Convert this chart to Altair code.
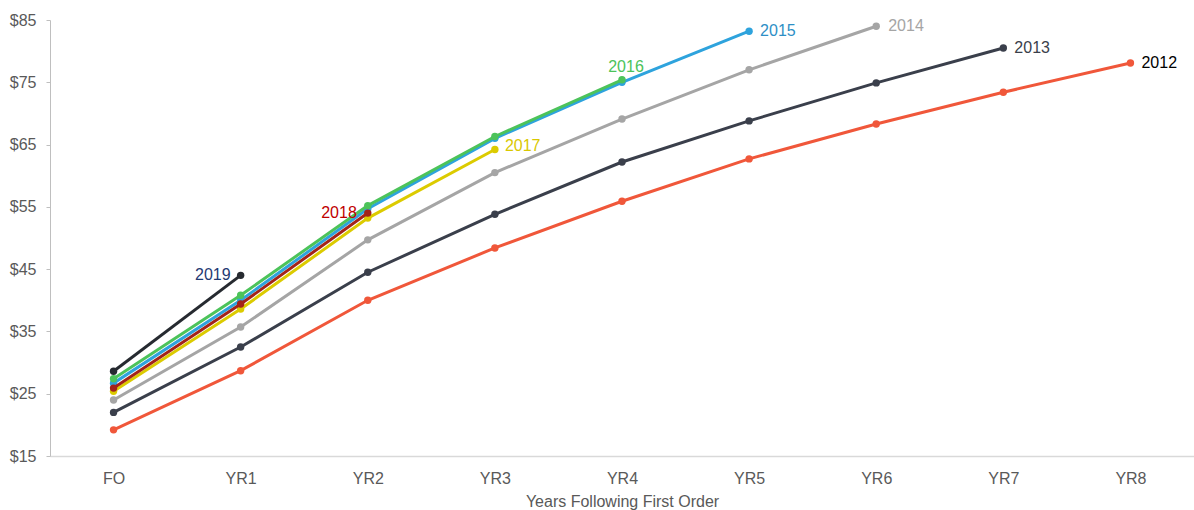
import altair as alt
import pandas as pd

categories = ["FO", "YR1", "YR2", "YR3", "YR4", "YR5", "YR6", "YR7", "YR8"]

years = ["2012", "2013", "2014", "2015", "2016", "2017", "2018", "2019"]
v2012 = [19.2, 28.7, 40.0, 48.4, 55.9, 62.7, 68.3, 73.4, 78.1]
v2013 = [22.0, 32.5, 44.5, 53.8, 62.2, 68.8, 74.9, 80.5]
v2014 = [24.0, 35.7, 49.7, 60.5, 69.1, 77.0, 84.0]
v2015 = [26.7, 40.0, 54.7, 66.0, 75.0, 83.2]
v2016 = [27.4, 40.8, 55.2, 66.3, 75.4]
v2017 = [25.4, 38.6, 53.2, 64.2]
v2018 = [25.9, 39.4, 54.0]
v2019 = [28.6, 44.0]
series = [v2012, v2013, v2014, v2015, v2016, v2017, v2018, v2019]

line_colors = ["#F0573A", "#3A3F4B", "#A5A5A5", "#2EA3DD", "#4CC35A", "#DCCB00", "#A3231A", "#262A30"]
label_colors = ["#000000", "#3A3F4B", "#A5A5A5", "#2E8FC6", "#4CC35A", "#D9C800", "#C00000", "#1F3A73"]
y_ticks = [15, 25, 35, 45, 55, 65, 75, 85]

# label placement (dx, dy, align) per year
label_pos = {
    "2012": (11, 0, "left"),
    "2013": (11, 0, "left"),
    "2014": (12, 0, "left"),
    "2015": (11, 0, "left"),
    "2016": (4, -13, "center"),
    "2017": (10, -4, "left"),
    "2018": (-11, 0, "right"),
    "2019": (-10, 0, "right"),
}

FONT = "Liberation Sans"

x_enc = alt.X(
    "cat:N",
    sort=categories,
    scale=alt.Scale(domain=categories, type="point", padding=0.5),
    axis=alt.Axis(
        title="Years Following First Order",
        labelAngle=0,
        ticks=False,
        domainColor="#D9D9D9",
        domainWidth=1.5,
        labelColor="#595959",
        labelFontSize=16,
        labelFont=FONT,
        labelPadding=14,
        titleColor="#595959",
        titleFontSize=16,
        titleFont=FONT,
        titleFontWeight="normal",
        titlePadding=7,
    ),
)
y_enc = alt.Y(
    "val:Q",
    scale=alt.Scale(domain=[15, 85], nice=False, zero=False),
    axis=alt.Axis(
        title=None,
        values=y_ticks,
        labelExpr="'$' + datum.value",
        grid=False,
        domainColor="#BFBFBF",
        tickColor="#BFBFBF",
        tickSize=4,
        labelColor="#595959",
        labelFontSize=16,
        labelFont=FONT,
        labelPadding=10,
    ),
)

layers = []
for yr, vals, lc, tc in zip(years, series, line_colors, label_colors):
    df = pd.DataFrame({"cat": categories[: len(vals)], "val": vals, "year": yr})
    base = alt.Chart(df).encode(x=x_enc, y=y_enc)
    layers.append(base.mark_line(color=lc, strokeWidth=3))
    layers.append(base.mark_point(color=lc, filled=True, opacity=1, size=55))
    last = df.tail(1)
    dx, dy, al = label_pos[yr]
    layers.append(
        alt.Chart(last)
        .mark_text(
            text=yr, color=tc, fontSize=16, font=FONT,
            align=al, baseline="middle", dx=dx, dy=dy,
        )
        .encode(x=x_enc, y=y_enc)
    )

chart = (
    alt.layer(*layers)
    .properties(
        width=1144,
        height=436,
        autosize=alt.AutoSizeParams(type="none"),
        padding={"left": 50, "top": 20, "right": 0, "bottom": 54},
        background="white",
    )
    .configure_view(stroke=None)
)

chart.save("out.html", embed_options={"renderer": "svg", "actions": False})
